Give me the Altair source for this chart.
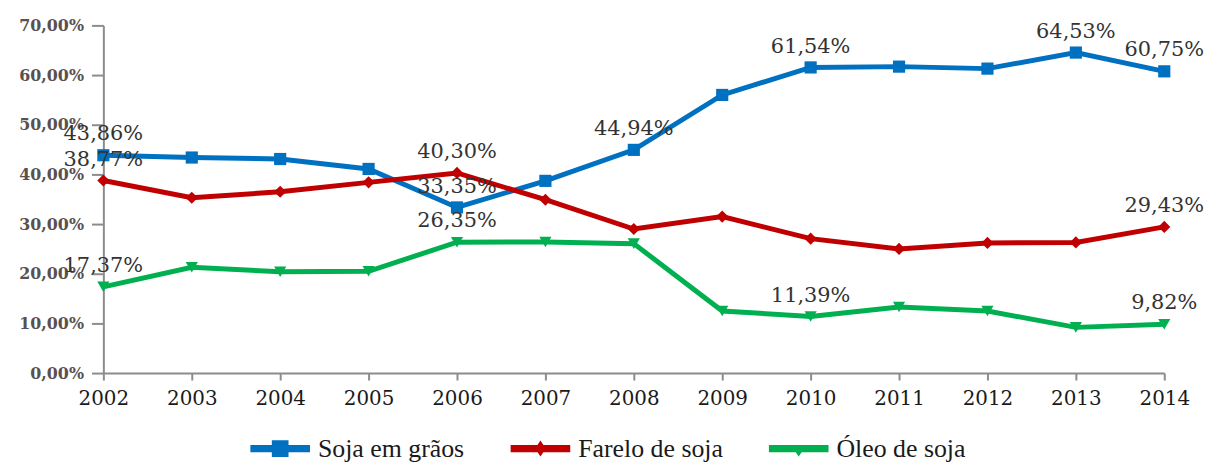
import altair as alt
import pandas as pd

# ---- data ----
anos = list(range(2002, 2015))
series = ["Soja em grãos", "Farelo de soja", "Óleo de soja"]
cores = ["#0070C0", "#C00000", "#00B050"]
formas = ["square", "diamond", "triangle-down"]

soja_graos = [43.86, 43.4, 43.1, 41.1, 33.35, 38.7, 44.94, 56.0, 61.54, 61.7, 61.3, 64.53, 60.75]
farelo_soja = [38.77, 35.3, 36.5, 38.4, 40.30, 34.9, 29.0, 31.5, 27.07, 25.0, 26.2, 26.3, 29.43]
oleo_soja = [17.37, 21.3, 20.4, 20.5, 26.35, 26.4, 26.06, 12.5, 11.39, 13.3, 12.5, 9.2, 9.82]

# years whose value is written on the chart
rotulos_graos = [2002, 2006, 2008, 2010, 2013, 2014]
rotulos_farelo = [2002, 2006, 2014]
rotulos_oleo = [2002, 2006, 2010, 2014]

rows = []
for nome, vals, rot in zip(series, [soja_graos, farelo_soja, oleo_soja],
                           [rotulos_graos, rotulos_farelo, rotulos_oleo]):
    for a, v in zip(anos, vals):
        rows.append({
            "ano": a,
            "valor": v,
            "serie": nome,
            "rotulo": (f"{v:.2f}".replace(".", ",") + "%") if a in rot else "",
        })
df = pd.DataFrame(rows)

# legend symbols: a thick line with the series marker on it
simbolos_legenda = [
    "M-1,-0.12H1V0.12H-1ZM-0.28,-0.28H0.28V0.28H-0.28Z",
    "M-1,-0.12H1V0.12H-1ZM0,-0.27L0.18,0L0,0.27L-0.18,0Z",
    "M-1,-0.12H1V0.12H-1ZM-0.22,-0.05H0.22L0,0.27Z",
]

x = alt.X(
    "ano:Q",
    scale=alt.Scale(domain=[2002, 2014], nice=False, zero=False),
    axis=alt.Axis(
        values=anos,
        format="d",
        title=None,
        grid=False,
        labelFlush=False,
        labelOverlap=False,
        tickSize=7,
        tickWidth=2,
        tickColor="#8c8c8c",
        domainColor="#8c8c8c",
        domainWidth=2,
        labelPadding=9,
        labelFont="DejaVu Serif",
        labelFontSize=20,
        labelColor="#1a1a1a",
    ),
)
y = alt.Y(
    "valor:Q",
    scale=alt.Scale(domain=[0, 70], nice=False),
    axis=alt.Axis(
        values=[0, 10, 20, 30, 40, 50, 60, 70],
        labelExpr="replace(format(datum.value, '.2f'), '.', ',') + '%'",
        title=None,
        grid=False,
        tickSize=12,
        tickWidth=2,
        tickColor="#8c8c8c",
        domainColor="#8c8c8c",
        domainWidth=2,
        labelPadding=8,
        labelFont="DejaVu Serif",
        labelFontSize=16,
        labelFontWeight="bold",
        labelColor="#5a5050",
    ),
)
cor_escala = alt.Scale(domain=series, range=cores)

legenda_cfg = dict(
    orient="none",
    legendX=148,
    legendY=396,
    direction="horizontal",
    title=None,
    padding=0,
    labelFont="Liberation Serif",
    labelFontSize=26,
    labelColor="#1a1a1a",
    labelOffset=8,
    columnPadding=46,
    symbolSize=3600,
    symbolOpacity=1,
    symbolStrokeWidth=0,
)
cor = alt.Color("serie:N", scale=cor_escala, legend=alt.Legend(**legenda_cfg))

base = alt.Chart(df).encode(x=x, y=y)

linhas = base.mark_line(strokeWidth=5).encode(color=cor)

pontos = [
    base.transform_filter(alt.datum.serie == s)
    .mark_point(filled=True, opacity=1, size=150, shape=f)
    .encode(color=cor)
    for s, f in zip(series, formas)
]

textos = base.mark_text(
    font="DejaVu Serif", fontSize=21, color="#333333", dy=-21, baseline="middle"
).encode(text="rotulo:N")

legenda = base.mark_point(filled=True, opacity=1).encode(
    color=cor,
    shape=alt.Shape(
        "serie:N",
        scale=alt.Scale(domain=series, range=simbolos_legenda),
        legend=alt.Legend(**legenda_cfg),
    ),
).transform_filter("false")

chart = (
    alt.layer(linhas, *pontos, textos, legenda)
    .properties(
        width=1068,
        height=350,
        autosize="none",
        padding={"left": 96, "top": 16, "right": 41, "bottom": 88},
    )
    .configure_view(stroke=None)
)

chart.save("out.html", embed_options={"renderer": "svg", "actions": False})
